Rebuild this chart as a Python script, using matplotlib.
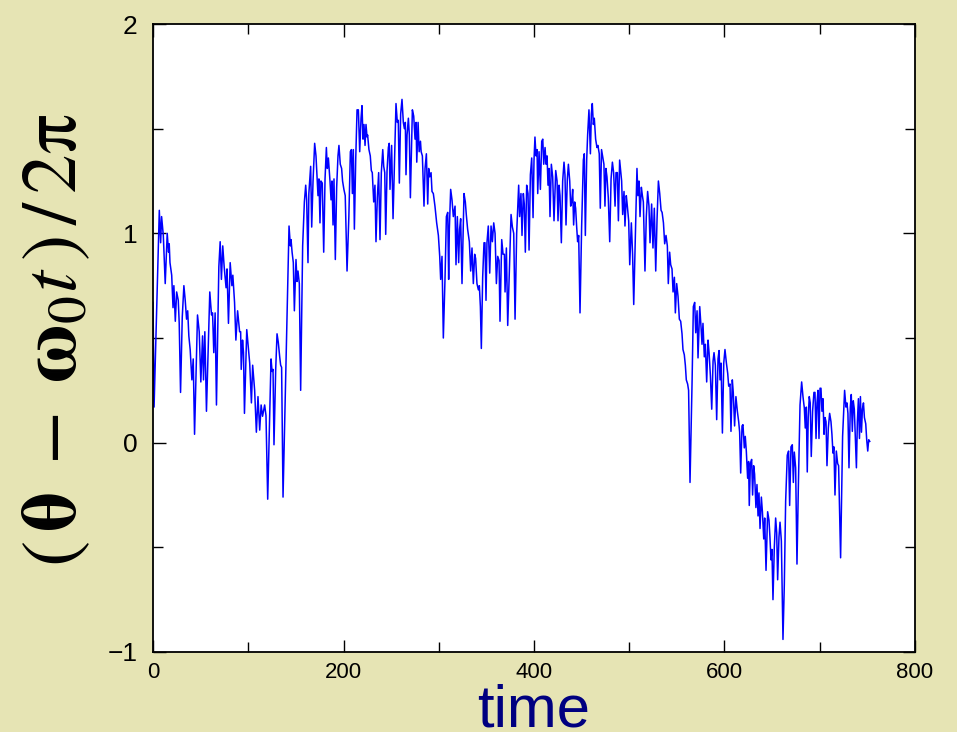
import matplotlib
matplotlib.use("Agg")
import matplotlib.pyplot as plt
from matplotlib.ticker import MultipleLocator

# values
time = [
    0, 1.1, 6.6, 8, 9, 10.8, 12.8, 14.9, 16.3, 17, 17.8, 19.6, 21.0, 21.9, 23.4, 24.8, 26.5, 27.5, 28.9, 30.7,
    32.4, 33.8, 35.2, 36.4, 37.6, 39.0, 40.8, 42.2, 43.6, 46.7, 48.5, 50.2, 52.0, 53.0, 54.4, 56.1, 59.6, 61.4, 62.5, 63.8,
    65.2, 66.6, 69.1, 70.5, 71.8, 73.2, 74.7, 76.7, 77.7, 79.2, 81.0, 82.8, 83.8, 85.6, 87.0, 88.8, 90.9, 92.0, 92.6, 94.0,
    95.0, 96.0, 98.4, 100.0, 101.5, 103.3, 104.6, 106.7, 108.5, 110.2, 112.0, 113.5, 115.0, 117.2, 118.6, 120.4, 123.9, 125, 126, 127,
    128.8, 130.2, 131.5, 133, 134, 135, 136.5, 142.8, 144.2, 144.9, 146, 147.3, 148.4, 150.1, 151.2, 152.2, 153.6, 155.0, 157.1, 158.9,
    160.3, 161.3, 162.7, 163.6, 165.5, 166.6, 168, 169.7, 171.1, 172.2, 173.2, 174.2, 175.3, 176.3, 177.7, 179.2, 180.6, 182.0, 183.0, 184.1,
    185.8, 186.9, 187.9, 189.0, 190.0, 191.4, 192.8, 194.2, 195.2, 196.6, 198.0, 199.0, 200.4, 201.8, 203.7, 205.6, 207.2, 208.3, 209.3, 210.3,
    211.4, 212.8, 214.2, 215.6, 217.0, 218.4, 219.4, 220.5, 221.5, 222.6, 223.6, 224.7, 225.3, 226.7, 228.1, 229.2, 230.2, 231.7, 233.0, 234.1,
    235.5, 236.9, 238.3, 239.7, 241.2, 242.2, 243.3, 244.3, 245.7, 247.1, 248.0, 248.8, 250.5, 252, 253.4, 255.1, 256.5, 257.5, 258.6, 260.0,
    261.4, 262.8, 263.9, 264.9, 265.6, 266.7, 268.1, 269.1, 270.2, 272.3, 273.7, 275.1, 276.2, 276.9, 278.3, 279.4, 280.8, 281.5, 282.8, 284.5,
    285.6, 287.0, 288.4, 289.4, 290.5, 291.9, 292.9, 294.3, 296.0, 297.8, 299.6, 301.0, 302.0, 303.4, 304.8, 306.6, 308.0, 309.4, 310.4, 311.1,
    312.5, 313.9, 315.3, 317.1, 318.1, 319.5, 320.9, 321.9, 323.0, 324.4, 326.5, 327.9, 328.9, 330.3, 332.1, 333.5, 334.9, 336.3, 337.7, 338.7,
    340.1, 341.6, 342.6, 343.7, 344.7, 346.1, 347.5, 348.5, 349.6, 350.6, 352.0, 353.5, 354.9, 356.3, 357.7, 359.1, 360.5, 361.9, 363.3, 364.3,
    366.1, 367.5, 368.9, 369.6, 371.0, 372.4, 375.9, 377.3, 378.7, 380.1, 381.8, 383.9, 384.9, 386.3, 387.4, 388.8, 389.8, 390.9, 392.3, 393.7,
    394.8, 396.2, 397.6, 399.0, 400.0, 401.0, 402.1, 403.2, 403.9, 405.3, 406.7, 408.1, 409.2, 410.2, 411.6, 412.7, 413.7, 414.7, 415.8, 416.8,
    418.2, 419.6, 421.0, 422.8, 424.2, 425.2, 426.3, 427.3, 428.7, 430.1, 431.5, 432.5, 433.6, 435.0, 436.1, 437.5, 438.5, 439.6, 440.6, 441.6,
    442.7, 443.7, 444.8, 445.8, 446.9, 448.3, 450.0, 451.8, 452.8, 453.9, 455.3, 456.3, 457.7, 459.2, 460.2, 461.2, 462.3, 463.3, 464.7, 466.1,
    467.1, 468.5, 469.6, 470.9, 472.3, 473.4, 474.5, 475.5, 476.6, 478.0, 479.5, 480.9, 482.3, 483.6, 485.1, 486.1, 487.5, 488.6, 489.9, 491.0,
    492.0, 493.1, 494.5, 495.5, 496.9, 498.0, 499.4, 500.5, 502.2, 503.5, 504.7, 508.1, 509.1, 510.2, 511.3, 512.7, 513.8, 514.8, 516.5, 517.9,
    519.3, 520.7, 521.8, 523.5, 524.9, 526.3, 527.8, 529.2, 530.6, 532.0, 533.4, 534.5, 535.9, 537.2, 538.6, 540.0, 541.0, 542.4, 543.5, 544.9,
    546.0, 547.4, 548.4, 549.8, 551.2, 552.6, 554.0, 555.4, 556.4, 557.8, 558.9, 559.9, 561.3, 562.3, 563.8, 566.0, 567.3, 568.7, 569.8, 571.2,
    572.2, 574.0, 575.4, 576.4, 577.4, 578.8, 579.9, 581.3, 582.7, 583.8, 585.2, 586.6, 588.0, 589.0, 590.4, 591.8, 593.2, 594.3, 595.3, 596.4,
    597.8, 599.2, 600.5, 602.0, 603.4, 604.4, 605.8, 606.8, 608.2, 609.2, 610.6, 612.0, 613.5, 614.9, 615.9, 617.0, 618.4, 619.4, 620.8, 621.8,
    622.9, 624.3, 625.3, 626.0, 627.2, 628.5, 629.5, 630.6, 631.6, 633.0, 634.1, 635.2, 636.2, 637.3, 638.7, 639.8, 641.2, 642.2, 643.6, 645.3,
    646.7, 647.7, 648.8, 649.8, 650.9, 652.3, 653.7, 654.8, 655.8, 657.2, 658.3, 659.7, 661.4, 662.8, 664.2, 665.9, 667.3, 668.4, 669.8, 671.2,
    672.3, 673.3, 674.7, 676.1, 677.5, 679.3, 681.0, 682.4, 683.8, 684.8, 685.9, 686.9, 687.9, 689.0, 690.0, 691.1, 692.5, 693.9, 695.0, 696.1,
    697.1, 698.2, 699.2, 700.3, 701.3, 702.3, 703.4, 704.5, 705.5, 706.6, 707.6, 709.0, 710.4, 711.8, 712.8, 713.9, 714.9, 716.0, 717.4, 718.8,
    719.8, 721.9, 724.0, 726.1, 727.5, 728.6, 729.6, 730.7, 732.1, 733.1, 734.2, 735.2, 736.3, 737.3, 738.5, 739.5, 740.6, 741.7, 742.7, 743.8,
    744.8, 745.9, 746.9, 748.3, 749.3, 750.4, 751.4, 752.5,
]
phase = [
    0.67, 0.17, 1.11, 0.955, 1.08, 0.99, 0.76, 1.0, 0.91, 0.95, 0.86, 0.80, 0.645, 0.75, 0.58, 0.72, 0.68, 0.57, 0.24, 0.60,
    0.75, 0.68, 0.59, 0.63, 0.51, 0.445, 0.30, 0.40, 0.04, 0.61, 0.53, 0.29, 0.51, 0.30, 0.53, 0.15, 0.72, 0.61, 0.62, 0.43,
    0.62, 0.18, 0.84, 0.96, 0.78, 0.94, 0.84, 0.74, 0.83, 0.57, 0.86, 0.75, 0.80, 0.67, 0.49, 0.63, 0.53, 0.53, 0.35, 0.49,
    0.43, 0.14, 0.54, 0.46, 0.38, 0.19, 0.37, 0.25, 0.05, 0.22, 0.06, 0.18, 0.126, 0.18, 0.13, -0.27, 0.40, 0.34, 0.35, -0.01,
    0.35, 0.52, 0.48, 0.41, 0.37, 0.36, -0.26, 1.035, 0.94, 0.97, 0.91, 0.86, 0.63, 0.875, 0.77, 0.82, 0.76, 0.25, 0.94, 1.15,
    1.23, 1.16, 0.86, 1.19, 1.32, 1.03, 1.25, 1.43, 1.37, 1.27, 1.18, 1.26, 1.05, 1.25, 1.24, 0.91, 1.26, 1.41, 1.31, 1.36,
    1.25, 1.16, 1.25, 1.04, 1.26, 0.875, 1.22, 1.37, 1.42, 1.33, 1.31, 1.25, 1.21, 1.18, 0.82, 1.08, 1.39, 1.40, 1.19, 1.40,
    1.02, 1.35, 1.59, 1.59, 1.39, 1.55, 1.61, 1.45, 1.52, 1.42, 1.52, 1.46, 1.47, 1.40, 1.37, 1.30, 1.29, 1.15, 1.23, 0.96,
    1.17, 1.29, 0.97, 1.29, 1.40, 1.32, 1.29, 0.995, 1.30, 1.41, 1.43, 1.21, 1.42, 1.07, 1.32, 1.62, 1.53, 1.54, 1.24, 1.57,
    1.64, 1.53, 1.50, 1.53, 1.28, 1.47, 1.55, 1.47, 1.17, 1.59, 1.56, 1.45, 1.53, 1.34, 1.53, 1.39, 1.44, 1.39, 1.37, 1.13,
    1.31, 1.38, 1.14, 1.31, 1.27, 1.29, 1.20, 1.19, 1.13, 1.05, 0.99, 0.89, 0.78, 0.89, 0.50, 0.79, 1.08, 1.10, 0.78, 1.02,
    1.21, 1.16, 1.08, 1.13, 0.85, 1.08, 0.86, 1.02, 1.07, 0.76, 1.19, 1.15, 1.09, 1.02, 0.96, 0.82, 0.93, 0.76, 0.90, 0.88,
    0.76, 0.73, 0.75, 0.65, 0.45, 0.79, 0.955, 0.955, 0.68, 0.955, 1.035, 0.81, 1.035, 0.96, 1.05, 1.0, 0.76, 0.89, 0.87, 0.58,
    0.97, 0.90, 0.90, 0.72, 0.93, 0.56, 1.09, 1.03, 1.0, 0.59, 1.0, 1.23, 1.08, 1.19, 0.99, 1.19, 1.14, 0.91, 1.23, 1.19,
    0.92, 1.28, 1.36, 1.075, 1.35, 1.46, 1.37, 1.40, 1.19, 1.39, 1.21, 1.44, 1.45, 1.33, 1.41, 1.33, 1.37, 1.23, 1.31, 1.08,
    1.33, 1.27, 1.06, 1.30, 1.25, 1.06, 1.23, 1.18, 0.955, 1.25, 1.34, 1.28, 1.04, 1.26, 1.33, 1.25, 1.13, 1.15, 1.21, 1.04,
    1.15, 1.12, 1.03, 0.96, 0.99, 0.62, 1.03, 1.35, 1.38, 0.99, 1.35, 1.47, 1.59, 1.38, 1.57, 1.62, 1.52, 1.55, 1.45, 1.41,
    1.42, 1.38, 1.12, 1.40, 1.36, 1.33, 1.13, 1.31, 1.27, 1.17, 0.96, 1.26, 1.34, 1.29, 1.13, 1.29, 1.29, 1.06, 1.35, 1.30,
    1.25, 1.09, 1.20, 1.035, 1.18, 1.13, 1.06, 0.85, 1.05, 0.90, 0.66, 1.31, 1.18, 1.25, 1.08, 1.22, 1.18, 1.15, 0.82, 1.08,
    1.20, 1.13, 0.955, 1.14, 0.93, 1.12, 0.82, 1.07, 1.25, 1.19, 1.11, 1.10, 1.05, 0.95, 0.99, 0.94, 0.76, 0.91, 0.85, 0.83,
    0.72, 0.79, 0.62, 0.76, 0.70, 0.59, 0.58, 0.52, 0.445, 0.42, 0.37, 0.30, 0.28, 0.25, -0.19, 0.30, 0.65, 0.67, 0.525, 0.63,
    0.405, 0.65, 0.55, 0.47, 0.57, 0.41, 0.47, 0.29, 0.49, 0.43, 0.32, 0.16, 0.39, 0.43, 0.37, 0.11, 0.40, 0.44, 0.30, 0.38,
    0.046, 0.38, 0.445, 0.38, 0.33, 0.27, 0.28, 0.054, 0.30, 0.24, 0.08, 0.22, 0.15, 0.10, 0.05, -0.145, 0.08, 0.086, -0.025, 0.03,
    -0.04, -0.17, -0.09, -0.30, -0.10, -0.08, -0.25, -0.11, -0.15, -0.31, -0.20, -0.35, -0.24, -0.41, -0.26, -0.33, -0.46, -0.36, -0.61, -0.33,
    -0.37, -0.45, -0.56, -0.51, -0.75, -0.50, -0.36, -0.43, -0.655, -0.45, -0.38, -0.47, -0.94, -0.68, -0.28, -0.06, -0.04, -0.30, -0.02, -0.01,
    -0.19, -0.045, -0.12, -0.58, -0.22, 0.18, 0.29, 0.22, 0.166, 0.07, 0.17, -0.14, 0.12, 0.22, 0.19, -0.066, 0.15, 0.24, 0.24, 0.02,
    0.19, 0.25, 0.02, 0.26, 0.26, 0.15, 0.21, 0.04, 0.12, 0.10, -0.11, 0.07, 0.14, 0.10, 0.04, -0.05, -0.02, -0.25, -0.04, -0.10,
    -0.11, -0.55, 0.03, 0.25, 0.17, 0.19, 0.14, -0.12, 0.17, 0.23, 0.054, 0.20, 0.16, 0.03, -0.12, 0.10, 0.21, 0.02, 0.22, 0.05,
    0.16, 0.19, 0.12, 0.09, 0.014, -0.04, 0.014, 0.006,
]
xticks = [0, 200, 400, 600, 800]
yticks = [-1, 0, 1, 2]
ytick_labels = ['\u22121', '0', '1', '2']

bg = '#e6e4b4'
plt.rcParams['font.family'] = ['Liberation Sans', 'DejaVu Sans']
plt.rcParams['mathtext.fontset'] = 'stix'

fig = plt.figure(figsize=(9.57, 7.32), dpi=100, facecolor=bg)
ax = fig.add_axes([0.1599, 0.1093, 0.7962, 0.8579])
ax.set_facecolor('white')

ax.plot(time, phase, color='#0000ff', lw=1.1)

ax.set_xlim(0, 800)
ax.set_ylim(-1, 2)
ax.set_xticks(xticks)
ax.set_xticklabels([str(v) for v in xticks], fontsize=16)
ax.set_yticks(yticks)
ax.set_yticklabels(ytick_labels, fontsize=19)
ax.xaxis.set_minor_locator(MultipleLocator(100))
ax.yaxis.set_minor_locator(MultipleLocator(0.5))
ax.tick_params(which='both', direction='in', top=True, right=True, width=1)
ax.tick_params(which='major', length=9)
ax.tick_params(axis='x', which='major', pad=7)
ax.tick_params(axis='y', which='major', pad=11)
ax.tick_params(which='minor', length=7)
for s in ax.spines.values():
    s.set_linewidth(1.3)

fig.text(0.558, 0.008, 'time', color='#000080', fontsize=43, ha='center', va='baseline')
fig.text(0.058, 0.535,
         r'$(\,\mathbf{\theta}\;-\;\mathbf{\omega}_0 t\,)\,/\,2\mathrm{\pi}$',
         fontsize=57, rotation=90, ha='center', va='center')

fig.savefig('out.png', dpi=100, facecolor=bg)
